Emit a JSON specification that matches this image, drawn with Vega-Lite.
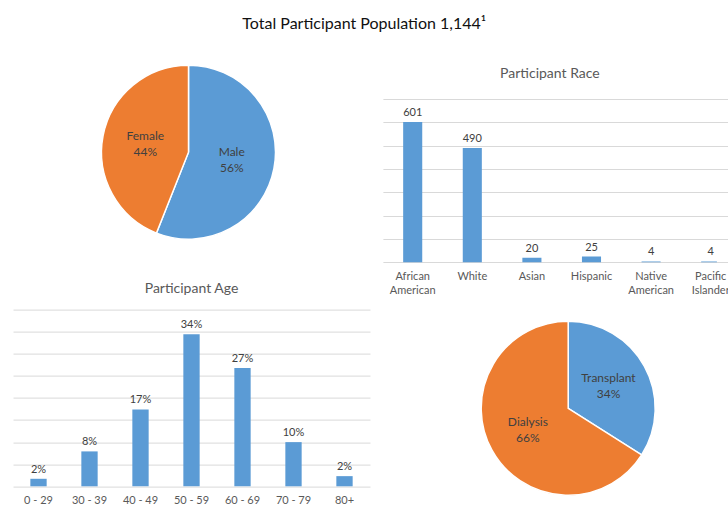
{
  "$schema": "https://vega.github.io/schema/vega-lite/v6.json",
  "padding": {"left": 13, "top": 16, "right": 0, "bottom": 0},
  "background": "white",
  "title": {"text": "Total Participant Population 1,144¹", "fontSize": 16, "fontWeight": "normal", "color": "#111111", "frame": "bounds", "offset": 30, "dx": -19, "anchor": "middle"},
  "bounds": "flush",
  "columns": 2,
  "spacing": {"row": 46.6, "column": 12.9},
  "resolve": {"scale": {"color": "independent"}},
  "concat": [
    {
      "width": 351,
      "height": 106.4,
      "data": {"values": [
        {"group": "Male", "share": 0.56, "idx": 1},
        {"group": "Female", "share": 0.44, "idx": 2}
      ]},
      "encoding": {
        "theta": {"field": "share", "type": "quantitative", "stack": true},
        "order": {"field": "idx", "type": "quantitative"}
      },
      "layer": [
        {"mark": {"type": "arc", "radius": 87, "stroke": "white", "strokeWidth": 1.5},
         "encoding": {"color": {"field": "group", "type": "nominal", "scale": {"domain": ["Male", "Female"], "range": ["#5B9BD5", "#ED7D31"]}, "legend": null}}},
        {"mark": {"type": "text", "radius": 44, "dy": -8, "fontSize": 12, "color": "#404040"},
         "encoding": {"text": {"field": "group", "type": "nominal"}}},
        {"mark": {"type": "text", "radius": 44, "dy": 8, "fontSize": 12, "color": "#404040"},
         "encoding": {"text": {"field": "share", "type": "quantitative", "format": ".0%"}}}
      ]
    },
    {
      "width": 334,
      "height": 163.4,
      "title": {"text": "Participant Race", "fontSize": 14, "fontWeight": "normal", "color": "#595959", "offset": 18},
      "data": {"values": [
        {"race": "African American", "count": 601},
        {"race": "White", "count": 490},
        {"race": "Asian", "count": 20},
        {"race": "Hispanic", "count": 25},
        {"race": "Native American", "count": 4},
        {"race": "Pacific Islander", "count": 4}
      ]},
      "encoding": {
        "x": {"field": "race", "type": "nominal", "sort": null,
              "scale": {"range": [0, 357.6], "paddingInner": 0.68, "paddingOuter": 0.34},
              "axis": {"title": null, "labelAngle": 0, "ticks": false, "domain": false, "labelPadding": 8, "labelFontSize": 11, "labelColor": "#595959", "labelExpr": "split(datum.label, ' ')", "labelLineHeight": 14}},
        "y": {"field": "count", "type": "quantitative", "scale": {"domain": [0, 700]},
              "axis": {"values": [0, 100, 200, 300, 400, 500, 600, 700], "labels": false, "ticks": false, "domain": false, "title": null, "gridColor": "#d9d9d9"}}
      },
      "layer": [
        {"mark": {"type": "bar", "color": "#5B9BD5", "clip": true}},
        {"mark": {"type": "text", "baseline": "bottom", "dy": -4, "fontSize": 11, "color": "#404040", "clip": true},
         "encoding": {"text": {"field": "count", "type": "quantitative"}}}
      ]
    },
    {
      "width": 357,
      "height": 176.7,
      "title": {"text": "Participant Age", "fontSize": 14, "fontWeight": "normal", "color": "#595959", "offset": 14},
      "data": {"values": [
        {"age": "0 - 29", "share": 0.017},
        {"age": "30 - 39", "share": 0.079},
        {"age": "40 - 49", "share": 0.174},
        {"age": "50 - 59", "share": 0.344},
        {"age": "60 - 69", "share": 0.268},
        {"age": "70 - 79", "share": 0.100},
        {"age": "80+", "share": 0.023}
      ]},
      "encoding": {
        "x": {"field": "age", "type": "nominal", "sort": null,
              "scale": {"paddingInner": 0.68, "paddingOuter": 0.34},
              "axis": {"title": null, "labelAngle": 0, "ticks": false, "domain": false, "labelPadding": 8, "labelFontSize": 11, "labelColor": "#595959"}},
        "y": {"field": "share", "type": "quantitative", "scale": {"domain": [0, 0.4]},
              "axis": {"values": [0, 0.05, 0.1, 0.15, 0.2, 0.25, 0.3, 0.35, 0.4], "labels": false, "ticks": false, "domain": false, "title": null, "gridColor": "#d9d9d9"}}
      },
      "layer": [
        {"mark": {"type": "bar", "color": "#5B9BD5"}},
        {"mark": {"type": "text", "baseline": "bottom", "dy": -4, "fontSize": 11, "color": "#404040"},
         "encoding": {"text": {"field": "share", "type": "quantitative", "format": ".0%"}}}
      ]
    },
    {
      "width": 370.6,
      "height": 197.4,
      "data": {"values": [
        {"group": "Transplant", "share": 0.34, "idx": 1},
        {"group": "Dialysis", "share": 0.66, "idx": 2}
      ]},
      "encoding": {
        "theta": {"field": "share", "type": "quantitative", "stack": true},
        "order": {"field": "idx", "type": "quantitative"}
      },
      "layer": [
        {"mark": {"type": "arc", "radius": 87, "stroke": "white", "strokeWidth": 1.5},
         "encoding": {"color": {"field": "group", "type": "nominal", "scale": {"domain": ["Transplant", "Dialysis"], "range": ["#5B9BD5", "#ED7D31"]}, "legend": null}}},
        {"mark": {"type": "text", "radius": 46, "dy": -8, "fontSize": 12, "color": "#404040"},
         "encoding": {"text": {"field": "group", "type": "nominal"}}},
        {"mark": {"type": "text", "radius": 46, "dy": 8, "fontSize": 12, "color": "#404040"},
         "encoding": {"text": {"field": "share", "type": "quantitative", "format": ".0%"}}}
      ]
    }
  ],
  "config": {
    "font": "Lato",
    "view": {"stroke": null},
    "axis": {"gridColor": "#d9d9d9", "labelFont": "Lato"},
    "title": {"font": "Lato"},
    "text": {"font": "Lato"}
  }
}
